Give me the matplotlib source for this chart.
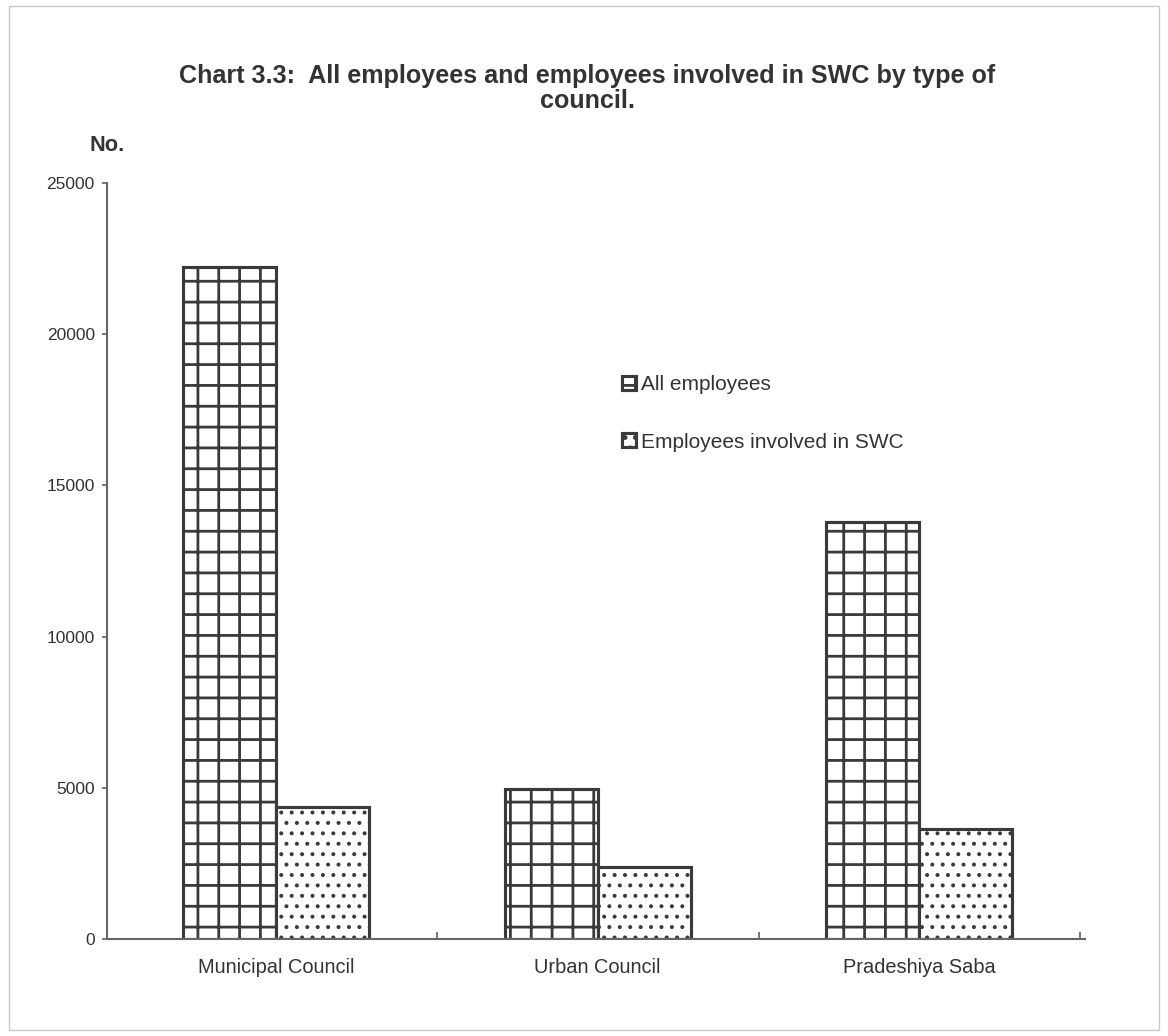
import numpy as np
from matplotlib import pyplot as plt, rcParams
from matplotlib.patches import Rectangle

# === Datos ===
councils = ["Municipal Council", "Urban Council", "Pradeshiya Saba"]
all_employees = [22220, 4960, 13790]
swc_employees = [4370, 2380, 3640]
series_labels = ["All employees", "Employees involved in SWC"]
y_ticks = [0, 5000, 10000, 15000, 20000, 25000]

# === Estilo ===
DPI = 125
FIGSIZE = (1168 / DPI, 1036 / DPI)
TEXT_COLOR = "#333333"
EDGE_COLOR = "#3a3a3a"
AXIS_COLOR = "#666666"

rcParams["font.family"] = ["Liberation Sans", "DejaVu Sans"]
rcParams["hatch.linewidth"] = 1.6

fig = plt.figure(figsize=FIGSIZE, dpi=DPI, facecolor="white")
ax = fig.add_axes([0.0916, 0.0936, 0.8374, 0.7298])

x = np.arange(len(councils))
bar_width = 0.289

bars_all = ax.bar(x - bar_width / 2, all_employees, width=bar_width,
                  facecolor="white", edgecolor=EDGE_COLOR, linewidth=1.8,
                  hatch="+", label=series_labels[0])
bars_swc = ax.bar(x + bar_width / 2, swc_employees, width=bar_width,
                  facecolor="white", edgecolor=EDGE_COLOR, linewidth=1.8,
                  hatch="..", label=series_labels[1])
for bar in bars_swc:
    if hasattr(bar, "set_hatch_linewidth"):
        bar.set_hatch_linewidth(1.1)

ax.set_xlim(-0.525, 2.515)
ax.set_ylim(0, 25000)
ax.set_yticks(y_ticks)
ax.set_xticks(x)
ax.set_xticklabels(councils)
ax.set_xticks([0.5, 1.5, 2.5], minor=True)

for side in ["top", "right"]:
    ax.spines[side].set_visible(False)
for side in ["left", "bottom"]:
    ax.spines[side].set_color(AXIS_COLOR)
    ax.spines[side].set_linewidth(1.2)

ax.tick_params(axis="y", direction="out", length=3, width=1, color=AXIS_COLOR,
               pad=4, labelsize=10, labelcolor=TEXT_COLOR)
ax.tick_params(axis="x", which="major", length=0, pad=11,
               labelsize=11.5, labelcolor=TEXT_COLOR)
ax.tick_params(axis="x", which="minor", direction="in", length=4, width=1,
               color=AXIS_COLOR)

# Título y unidad del eje
fig.text(0.503, 0.9146,
         "Chart 3.3:  All employees and employees involved in SWC by type of\ncouncil.",
         ha="center", va="center", fontsize=14.5, fontweight="bold",
         color=TEXT_COLOR, linespacing=1.05)
fig.text(0.077, 0.860, "No.", ha="left", va="center", fontsize=12.5,
         fontweight="bold", color=TEXT_COLOR)

leg = ax.legend(loc="upper left", bbox_to_anchor=(0.5325, 0.638),
                bbox_transform=fig.transFigure, frameon=False, fontsize=12,
                handlelength=0.65, handleheight=0.65, handletextpad=0.25,
                labelspacing=1.85, borderpad=0, borderaxespad=0)
for txt in leg.get_texts():
    txt.set_color(TEXT_COLOR)

# Marco fino de la página
fig.patches.append(Rectangle((0.008, 0.006), 0.984, 0.988, transform=fig.transFigure,
                             fill=False, edgecolor="#c8c8c8", linewidth=0.8))

plt.savefig("out.png", dpi=DPI, facecolor="white")
plt.close()
